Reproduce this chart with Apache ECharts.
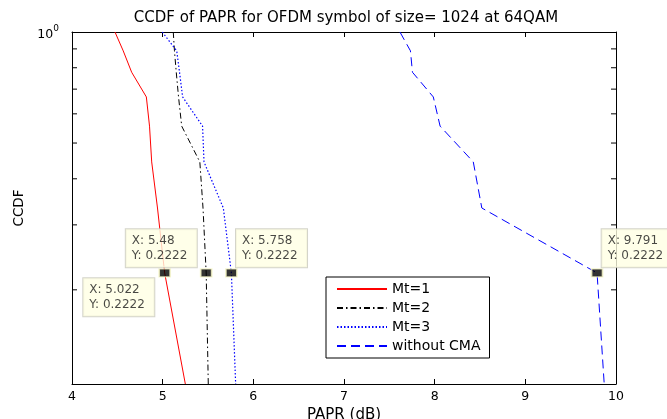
<!DOCTYPE html>
<html>
<head>
<meta charset="utf-8">
<script src="https://cdn.jsdelivr.net/npm/echarts@6/dist/echarts.min.js"></script>
<style>
html,body{margin:0;padding:0;background:#fff;}
#c{width:667px;height:419px;}
</style>
</head>
<body>
<div id="c"></div>
<script>
// CCDF levels (y) shared by all curves
const ccdfLevels = [1, 0.8889, 0.7778, 0.6667, 0.5556, 0.4444, 0.3333, 0.2222, 0.1111];
// PAPR (dB) at each CCDF level
const paprMt1 = [4.474, 4.565, 4.658, 4.820, 4.855, 4.879, 4.943, 5.022, 5.250];
const paprMt2 = [5.117, 5.130, 5.150, 5.175, 5.210, 5.410, 5.445, 5.480, 5.503];
const paprMt3 = [4.996, 5.155, 5.186, 5.220, 5.440, 5.456, 5.669, 5.758, 5.805];
const paprNoCMA = [7.617, 7.733, 7.755, 7.985, 8.060, 8.426, 8.520, 9.791, 9.870];
const seriesNames = ['Mt=1', 'Mt=2', 'Mt=3', 'without CMA'];
// data tips
const tipX = [5.022, 5.48, 5.758, 9.791];
const tipY = [0.2222, 0.2222, 0.2222, 0.2222];
const tipText = [['X: 5.022', 'Y: 0.2222'], ['X: 5.48', 'Y: 0.2222'], ['X: 5.758', 'Y: 0.2222'], ['X: 9.791', 'Y: 0.2222']];
// axis ticks
const xTicks = [4, 5, 6, 7, 8, 9, 10];
const yMinorTicks = [0.2, 0.3, 0.4, 0.5, 0.6, 0.7, 0.8, 0.9];
const yMin = 0.1111, yMax = 1;

const FONT = 'DejaVu Sans';
const pairs = (xs) => xs.map((x, i) => [x, ccdfLevels[i]]);

const tipOffsets = [[-75, 10], [-74, -39], [11, -39], [11, -39]];

const chart = echarts.init(document.getElementById('c'), null, {renderer: 'canvas'});
chart.setOption({
  animation: false,
  backgroundColor: '#fff',
  title: {
    text: 'CCDF of PAPR for OFDM symbol of size= 1024 at 64QAM',
    left: 341, top: 6, textAlign: 'center',
    textStyle: {fontFamily: FONT, fontSize: 15, fontWeight: 'normal', color: '#000'}
  },
  grid: {left: 72, top: 32, right: 51, bottom: 35, containLabel: false, outerBoundsMode: 'none'},
  legend: {
    orient: 'vertical', left: 326, top: 277,
    itemWidth: 50, itemHeight: 14, itemGap: 5,
    padding: [5, 9, 5, 10],
    borderColor: '#000', borderWidth: 1, backgroundColor: '#fff',
    itemStyle: {opacity: 0, borderWidth: 0},
    textStyle: {fontFamily: FONT, fontSize: 14, color: '#000'},
    data: seriesNames
  },
  xAxis: [{
    type: 'value', min: 4, max: 10, interval: 1, position: 'bottom',
    name: 'PAPR (dB)', nameLocation: 'middle', nameGap: 23,
    nameTextStyle: {fontFamily: FONT, fontSize: 15, color: '#000'},
    axisLine: {show: true, lineStyle: {color: '#000', width: 1}},
    axisTick: {show: true, inside: true, length: 5, lineStyle: {color: '#000'}},
    axisLabel: {fontFamily: FONT, fontSize: 12.5, color: '#000', margin: 6},
    splitLine: {show: false}
  }, {
    type: 'value', min: 4, max: 10, interval: 1, position: 'top',
    axisLine: {show: true, lineStyle: {color: '#000', width: 1}},
    axisTick: {show: true, inside: true, length: 5, lineStyle: {color: '#000'}},
    axisLabel: {show: false},
    splitLine: {show: false}
  }],
  yAxis: [{
    type: 'log', logBase: 10, min: yMin, max: yMax, position: 'left',
    name: 'CCDF', nameLocation: 'middle', nameGap: 46,
    nameTextStyle: {fontFamily: FONT, fontSize: 13.5, color: '#000'},
    axisLine: {show: true, lineStyle: {color: '#000', width: 1}},
    axisTick: {show: false},
    axisLabel: {
      fontFamily: FONT, color: '#000', margin: 13,
      formatter: (v) => (Math.abs(v - 1) < 1e-6 ? '{b|10}{s|0}' : ''),
      rich: {
        b: {fontFamily: FONT, fontSize: 12.5, color: '#000', padding: [6, 0, 0, 0]},
        s: {fontFamily: FONT, fontSize: 9, color: '#000', padding: [0, 0, 6, 0]}
      }
    },
    splitLine: {show: false}
  }, {
    type: 'log', logBase: 10, min: yMin, max: yMax, position: 'right',
    axisLine: {show: true, lineStyle: {color: '#000', width: 1}},
    axisTick: {show: false},
    axisLabel: {show: false},
    splitLine: {show: false}
  }],
  series: [
    {
      name: seriesNames[0], type: 'line', data: pairs(paprMt1), symbol: 'none',
      lineStyle: {color: '#ff0000', width: 1, type: 'solid'}, itemStyle: {color: '#ff0000'}, z: 3
    },
    {
      name: seriesNames[1], type: 'line', data: pairs(paprMt2), symbol: 'none',
      lineStyle: {color: '#000000', width: 1, type: [6, 3, 1.5, 3]}, itemStyle: {color: '#000'}, z: 3
    },
    {
      name: seriesNames[2], type: 'line', data: pairs(paprMt3), symbol: 'none',
      lineStyle: {color: '#0000ff', width: 1.2, type: [1.5, 2]}, itemStyle: {color: '#0000ff'}, z: 3
    },
    {
      name: seriesNames[3], type: 'line', data: pairs(paprNoCMA), symbol: 'none',
      lineStyle: {color: '#0000ff', width: 1, type: [9, 5]}, itemStyle: {color: '#0000ff'}, z: 3
    },
    {
      type: 'custom', silent: true, z: 4,
      data: yMinorTicks.map(v => [4, v]),
      renderItem: (params, api) => {
        const v = api.value(1);
        const pL = api.coord([4, v]);
        const pR = api.coord([10, v]);
        return {
          type: 'group',
          children: [
            {type: 'line', shape: {x1: pL[0], y1: pL[1], x2: pL[0] + 5, y2: pL[1]}, style: {stroke: '#000', lineWidth: 1}},
            {type: 'line', shape: {x1: pR[0] - 5, y1: pR[1], x2: pR[0], y2: pR[1]}, style: {stroke: '#000', lineWidth: 1}}
          ]
        };
      }
    },
    {
      type: 'scatter', silent: true, z: 10,
      symbol: 'rect', symbolSize: [11, 8],
      itemStyle: {color: '#000', borderColor: '#f6f6c8', borderWidth: 1.5},
      data: tipX.map((x, i) => ({
        value: [x, tipY[i]],
        label: {
          show: true, position: tipOffsets[i], align: 'left', verticalAlign: 'top',
          formatter: tipText[i].join('\n'),
          fontFamily: FONT, fontSize: 12, lineHeight: 15, color: '#1a1a1a',
          backgroundColor: '#ffffe4', borderColor: '#c9c9bd', borderWidth: 1,
          padding: [4, 7, 4, 6], width: 58
        }
      }))
    }
  ]
});
</script>
</body>
</html>
